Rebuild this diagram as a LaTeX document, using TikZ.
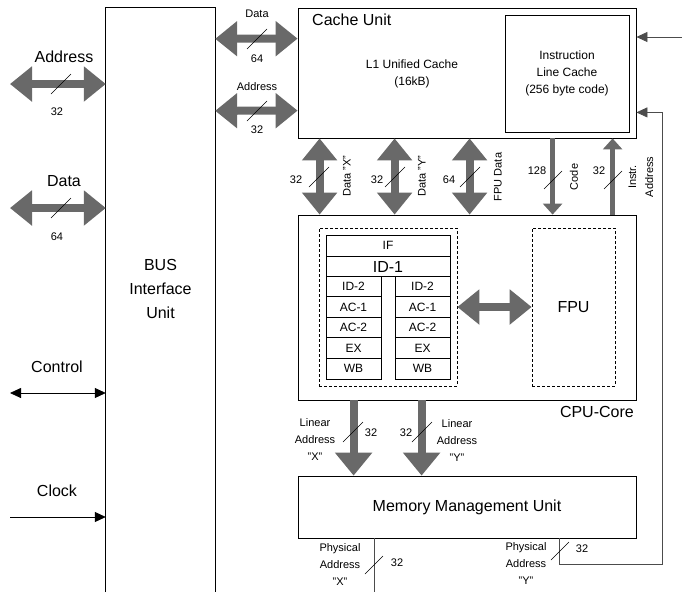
\documentclass[tikz,border=0pt]{standalone}
\usepackage{fontspec}
\setmainfont{Liberation Sans}
\usetikzlibrary{arrows.meta, positioning, calc}
\definecolor{busgray}{RGB}{105,105,105}
\tikzset{
    unit/.style={draw, line width=0.8pt, inner sep=0pt},
    dashunit/.style={draw, line width=0.7pt, dash pattern=on 3pt off 2pt, inner sep=0pt},
    stage/.style={draw, line width=0.8pt, inner sep=0pt, minimum width=55pt, minimum height=20.6pt, font=\fontsize{12}{14}\selectfont},
    bigtxt/.style={font=\fontsize{16}{19}\selectfont, inner sep=0pt},
    midtxt/.style={font=\fontsize{12}{17}\selectfont, align=center, inner sep=0pt},
    smalltxt/.style={font=\fontsize{11}{17}\selectfont, align=center, inner sep=0pt},
    bus/.style={line width=8pt, busgray, {Triangle[length=22pt,width=34pt]}-{Triangle[length=22pt,width=34pt]}},
    busdown/.style={line width=8pt, busgray, -{Triangle[length=23pt,width=36pt]}},
    codebus/.style={line width=5pt, busgray, -{Triangle[length=11pt,width=19pt]}},
    wire/.style={line width=0.8pt, -{Triangle[length=11pt,width=10pt]}},
    tick/.style={line width=0.6pt},
}

\begin{document}
\begin{tikzpicture}[x=1pt, y=-1pt]
    \useasboundingbox (0,0) rectangle (682,592);

    % bus interface unit (open at the bottom)
    \node[inner sep=0pt, minimum width=109pt, minimum height=584pt] (biu) at (160.5,300) {};
    \draw[line width=0.8pt] (biu.south west) -- (biu.north west) -- (biu.north east) -- (biu.south east);
    \node[align=center, inner sep=0pt, font=\fontsize{16}{24}\selectfont] (biulbl) at (160.5,289) {BUS\\Interface\\Unit};

    % cache unit
    \node[unit, minimum width=338pt, minimum height=130pt] (cache) at (467,73) {};
    \node[bigtxt, anchor=west] (cachelbl) at (312,20) {Cache Unit};
    \node[midtxt] (l1) at (412,74) {L1 Unified Cache\\(16kB)};
    \node[unit, midtxt, minimum width=124pt, minimum height=117pt] (ilc) at (567,73.5) {Instruction\\Line Cache\\(256 byte code)};

    % cpu core
    \node[unit, minimum width=338pt, minimum height=185pt] (core) at (467,307.5) {};
    \node[bigtxt, anchor=east] (corelbl) at (634,412) {CPU-Core};
    \node[dashunit, minimum width=138pt, minimum height=158pt] (pipe) at (388,307) {};
    \node[dashunit, minimum width=83pt, minimum height=158pt, font=\fontsize{16}{19}\selectfont] (fpu) at (573.5,307) {FPU};

    % pipeline stages
    \node[stage, minimum width=124pt, minimum height=21pt] (if) at (388,245.5) {IF};
    \node[stage, minimum width=124pt, minimum height=20pt, font=\fontsize{16}{19}\selectfont, below=0pt of if] (id1) {ID-1};
    \foreach \stg [count=\i] in {ID-2,AC-1,AC-2,EX,WB} {
        \node[stage] (left\i) at (353.5, 265.7+20.6*\i) {\stg};
        \node[stage] (right\i) at (422.5, 265.7+20.6*\i) {\stg};
    }

    % memory management unit
    \node[unit, minimum width=338pt, minimum height=62pt, font=\fontsize{16}{19}\selectfont] (mmu) at (467,507) {Memory Management Unit};

    % external pins
    \coordinate (addrpin) at (10,84);
    \coordinate (datapin) at (10,208);
    \coordinate (ctrlpin) at (10,393);
    \coordinate (clkpin) at (10,517);
    \draw[bus] (addrpin) -- (addrpin -| biu.west);
    \draw[bus] (datapin) -- (datapin -| biu.west);
    \draw[wire, {Triangle[length=11pt,width=10pt]}-{Triangle[length=11pt,width=10pt]}] (ctrlpin) -- (ctrlpin -| biu.west);
    \draw[wire] (clkpin) -- (clkpin -| biu.west);

    % bus unit <-> cache
    \draw[bus] ([yshift=-31pt]biu.north east) -- ([yshift=-31pt]cache.north west);
    \draw[bus] ([yshift=-103pt]biu.north east) -- ([yshift=-103pt]cache.north west);

    % cache <-> core
    \foreach \dx in {22,97,172}
        \draw[bus] ([xshift=\dx pt]cache.south west) -- ([xshift=\dx pt]core.north west);
    \draw[codebus] ([xshift=255pt]cache.south west) -- ([xshift=255pt]core.north west);
    \draw[codebus] ([xshift=315pt]core.north west) -- ([xshift=315pt]cache.south west);
    \draw[bus] (pipe.east) -- (fpu.west);

    % core -> mmu
    \foreach \dx in {56,124}
        \draw[busdown] ([xshift=\dx pt]core.south west) -- ([xshift=\dx pt]mmu.north west);

    % physical addresses
    \coordinate (physx) at (374,592);
    \coordinate (ycorner) at (662,564);
    \coordinate (ilcpin) at (682,37);
    \draw[line width=0.8pt, black!70] (physx |- mmu.south) -- (physx);
    \draw[wire, black!70] ([xshift=262pt]mmu.south west) |- (ycorner) |- ([yshift=26pt]cache.south east);
    \draw[wire, black!70] (ilcpin) -- (ilcpin -| cache.east);

    % width marks
    \foreach \sx/\sy in {61/84, 61/208, 257/39, 257/111, 319/177, 395/177, 470/177, 353/432, 422/432}
        \draw[tick] (\sx-10,\sy+10) -- (\sx+10,\sy-10);
    \foreach \sx/\sy in {553/180, 613/180, 374/565, 560/551}
        \draw[tick] (\sx-9,\sy+9) -- (\sx+9,\sy-9);

    % labels
    \node[bigtxt] (addrlbl) at (64,57) {Address};
    \node[smalltxt] (addrw) at (57,112) {32};
    \node[bigtxt] (datalbl) at (64,181) {Data};
    \node[smalltxt] (dataw) at (57,237) {64};
    \node[bigtxt] (ctrllbl) at (57,367) {Control};
    \node[bigtxt] (clklbl) at (57,491) {Clock};
    \node[smalltxt] (bdlbl) at (257,14) {Data};
    \node[smalltxt] (bdw) at (257,59) {64};
    \node[smalltxt] (balbl) at (257,87) {Address};
    \node[smalltxt] (baw) at (257,130) {32};

    \node[smalltxt] (dxw) at (296,180) {32};
    \node[smalltxt, rotate=90] (dxlbl) at (347,176) {Data "X"};
    \node[smalltxt] (dyw) at (377,180) {32};
    \node[smalltxt, rotate=90] (dylbl) at (422,176) {Data "Y"};
    \node[smalltxt] (fdw) at (449,180) {64};
    \node[smalltxt, rotate=90] (fdlbl) at (498,177) {FPU Data};
    \node[smalltxt] (codew) at (537,171) {128};
    \node[smalltxt, rotate=90] (codelbl) at (574,177) {Code};
    \node[smalltxt] (iaw) at (599,171) {32};
    \node[smalltxt, rotate=90] (ialbl) at (641,177) {Instr.\\Address};

    \node[smalltxt] (lxlbl) at (315,440) {Linear\\Address\\"X"};
    \node[smalltxt] (lxw) at (371,433) {32};
    \node[smalltxt] (lyw) at (406,433) {32};
    \node[smalltxt] (lylbl) at (457,441) {Linear\\Address\\"Y"};
    \node[smalltxt] (pxlbl) at (340,565) {Physical\\Address\\"X"};
    \node[smalltxt] (pxw) at (397,563) {32};
    \node[smalltxt] (pylbl) at (526,564) {Physical\\Address\\"Y"};
    \node[smalltxt] (pyw) at (582,549) {32};
\end{tikzpicture}
\end{document}
